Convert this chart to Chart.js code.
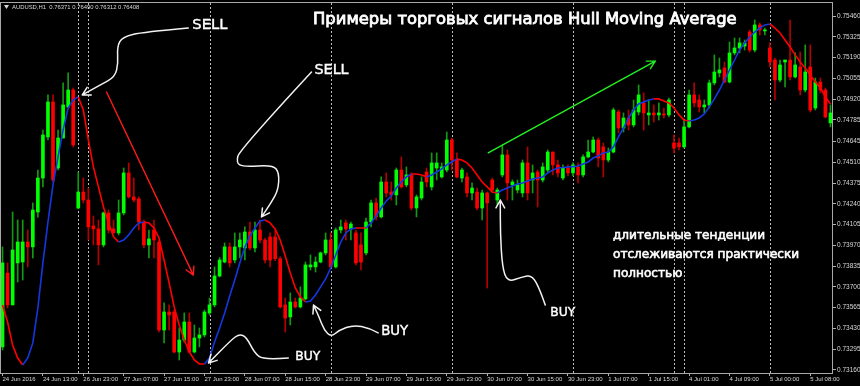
<!DOCTYPE html>
<html>
<head>
<meta charset="utf-8">
<script src="https://cdn.jsdelivr.net/npm/chart.js@4.4.1/dist/chart.umd.min.js"></script>
<style>
  html, body { margin: 0; padding: 0; background: #000; }
  canvas { display: block; }
</style>
</head>
<body>
<canvas id="chart" width="860" height="386"></canvas>
<script>
// AUDUSD H1, 24 Jun - 5 Jul 2016, Hull Moving Average signals
const sessions = [
  ['24 Jun', 5, 19], ['26 Jun', 22, 23], ['27 Jun', 0, 23], ['28 Jun', 0, 23],
  ['29 Jun', 0, 23], ['30 Jun', 0, 23], ['1 Jul', 0, 19], ['3 Jul', 22, 23],
  ['4 Jul', 0, 16], ['5 Jul', 0, 12]
];
const barTimes = [];
sessions.forEach(([day, from, to]) => {
  for (let h = from; h <= to; h++) barTimes.push(day + ' ' + String(h).padStart(2, '0') + ':00');
});

const openPrices = [
  0.73310, 0.73790, 0.73583, 0.73856, 0.73862, 0.73992, 0.73960, 0.74187, 0.74408, 0.74675,
  0.74902, 0.74473, 0.74668, 0.74870, 0.74980, 0.74213, 0.74317, 0.74265, 0.74096, 0.74077,
  0.73973, 0.74181, 0.74077, 0.74051, 0.74181, 0.74441, 0.74285, 0.74272, 0.74122, 0.73973,
  0.74070, 0.73992, 0.73420, 0.73537, 0.73537, 0.73277, 0.73355, 0.73472, 0.73277, 0.73368,
  0.73388, 0.73531, 0.73583, 0.73771, 0.73862, 0.73960, 0.73875, 0.73960, 0.73953, 0.74057,
  0.73953, 0.74070, 0.74005, 0.74025, 0.74025, 0.73883, 0.73583, 0.73505, 0.73602, 0.73570,
  0.73622, 0.73830, 0.73830, 0.73862, 0.73921, 0.74005, 0.73830, 0.74070, 0.74116, 0.74077,
  0.74051, 0.73973, 0.73921, 0.74122, 0.74246, 0.74155, 0.74382, 0.74317, 0.74298, 0.74460,
  0.74363, 0.74428, 0.74213, 0.74278, 0.74447, 0.74350, 0.74473, 0.74415, 0.74460, 0.74655,
  0.74525, 0.74408, 0.74415, 0.74311, 0.74317, 0.74213, 0.74311, 0.74395, 0.74265, 0.74428,
  0.74558, 0.74363, 0.74330, 0.74311, 0.74506, 0.74395, 0.74447, 0.74395, 0.74460, 0.74577,
  0.74493, 0.74408, 0.74473, 0.74441, 0.74480, 0.74428, 0.74545, 0.74577, 0.74655, 0.74610,
  0.74525, 0.74577, 0.74837, 0.74733, 0.74798, 0.74753, 0.74837, 0.74896, 0.74818, 0.74831,
  0.74818, 0.74824, 0.74818, 0.74636, 0.74636, 0.74610, 0.74740, 0.74948, 0.74915, 0.74870,
  0.74883, 0.75026, 0.75091, 0.75123, 0.75032, 0.75221, 0.75253, 0.75266, 0.75357, 0.75240,
  0.75403, 0.75364, 0.75253, 0.75175, 0.75045, 0.75162, 0.75175, 0.75065, 0.75130, 0.74980,
  0.75130, 0.74863, 0.75032, 0.74980, 0.74766
];
const highPrices = [
  0.73960, 0.73856, 0.74187, 0.74135, 0.74135, 0.74070, 0.74246, 0.74460, 0.74720, 0.74948,
  0.74948, 0.74720, 0.75026, 0.75091, 0.74993, 0.74447, 0.74408, 0.74343, 0.74161, 0.74135,
  0.74187, 0.74200, 0.74135, 0.74265, 0.74473, 0.74506, 0.74408, 0.74285, 0.74135, 0.74070,
  0.74135, 0.74005, 0.73596, 0.73583, 0.73550, 0.73433, 0.73531, 0.73531, 0.73453, 0.73433,
  0.73550, 0.73628, 0.73830, 0.73891, 0.73986, 0.73986, 0.74051, 0.74051, 0.74090, 0.74122,
  0.74122, 0.74135, 0.74018, 0.74051, 0.74070, 0.73896, 0.73628, 0.73661, 0.73628, 0.73700,
  0.73862, 0.73908, 0.73895, 0.73927, 0.74051, 0.74051, 0.74083, 0.74135, 0.74135, 0.74122,
  0.74070, 0.74051, 0.74148, 0.74265, 0.74278, 0.74415, 0.74441, 0.74382, 0.74473, 0.74545,
  0.74480, 0.74441, 0.74298, 0.74415, 0.74473, 0.74571, 0.74571, 0.74506, 0.74707, 0.74668,
  0.74571, 0.74473, 0.74441, 0.74376, 0.74343, 0.74330, 0.74317, 0.74408, 0.74343, 0.74623,
  0.74590, 0.74395, 0.74395, 0.74525, 0.74610, 0.74493, 0.74460, 0.74506, 0.74590, 0.74577,
  0.74525, 0.74493, 0.74493, 0.74506, 0.74506, 0.74558, 0.74655, 0.74675, 0.74668, 0.74636,
  0.74603, 0.74863, 0.74850, 0.74831, 0.74850, 0.74915, 0.75013, 0.74961, 0.74915, 0.74883,
  0.74896, 0.74863, 0.74928, 0.74688, 0.74668, 0.74785, 0.74980, 0.75026, 0.74948, 0.74915,
  0.75045, 0.75208, 0.75188, 0.75162, 0.75292, 0.75318, 0.75318, 0.75305, 0.75370, 0.75435,
  0.75416, 0.75383, 0.75286, 0.75188, 0.75175, 0.75175, 0.75435, 0.75221, 0.75227, 0.75273,
  0.75273, 0.75058, 0.75058, 0.74993, 0.74883
];
const lowPrices = [
  0.73290, 0.73563, 0.73583, 0.73732, 0.73745, 0.73830, 0.73888, 0.74154, 0.74350, 0.74655,
  0.74382, 0.74460, 0.74668, 0.74863, 0.74610, 0.74207, 0.74246, 0.74005, 0.73973, 0.73843,
  0.73960, 0.74051, 0.74051, 0.74038, 0.74168, 0.74278, 0.74252, 0.74070, 0.73953, 0.73888,
  0.73888, 0.73407, 0.73336, 0.73420, 0.73271, 0.73225, 0.73342, 0.73271, 0.73271, 0.73310,
  0.73375, 0.73518, 0.73570, 0.73765, 0.73856, 0.73830, 0.73856, 0.73891, 0.73875, 0.73940,
  0.73927, 0.73986, 0.73856, 0.73830, 0.73871, 0.73563, 0.73407, 0.73453, 0.73563, 0.73563,
  0.73615, 0.73810, 0.73797, 0.73856, 0.73908, 0.73823, 0.73823, 0.74051, 0.74005, 0.74005,
  0.73843, 0.73810, 0.73908, 0.74090, 0.74135, 0.74148, 0.74285, 0.74265, 0.74233, 0.74343,
  0.74350, 0.74200, 0.74155, 0.74265, 0.74350, 0.74330, 0.74395, 0.74408, 0.74447, 0.74460,
  0.74408, 0.74382, 0.74285, 0.74265, 0.74200, 0.74135, 0.73693, 0.74317, 0.74233, 0.74415,
  0.74265, 0.74265, 0.74311, 0.74285, 0.74265, 0.74311, 0.74220, 0.74382, 0.74447, 0.74428,
  0.74415, 0.74395, 0.74421, 0.74421, 0.74376, 0.74415, 0.74538, 0.74571, 0.74480, 0.74415,
  0.74512, 0.74571, 0.74701, 0.74707, 0.74720, 0.74740, 0.74818, 0.74720, 0.74753, 0.74772,
  0.74785, 0.74798, 0.74805, 0.74571, 0.74590, 0.74603, 0.74733, 0.74870, 0.74837, 0.74831,
  0.74863, 0.75013, 0.75065, 0.75026, 0.75026, 0.75208, 0.75221, 0.75240, 0.75227, 0.75227,
  0.75338, 0.75338, 0.75130, 0.74915, 0.75032, 0.75000, 0.75045, 0.75058, 0.74948, 0.74967,
  0.74837, 0.74850, 0.74961, 0.74798, 0.74740
];
const closePrices = [
  0.73856, 0.73583, 0.73940, 0.73992, 0.73992, 0.73960, 0.74200, 0.74408, 0.74688, 0.74902,
  0.74395, 0.74668, 0.74883, 0.74980, 0.74623, 0.74317, 0.74265, 0.74090, 0.74077, 0.73973,
  0.74181, 0.74070, 0.74051, 0.74181, 0.74441, 0.74285, 0.74265, 0.74122, 0.73973, 0.74012,
  0.74005, 0.73420, 0.73537, 0.73518, 0.73277, 0.73355, 0.73472, 0.73277, 0.73368, 0.73388,
  0.73537, 0.73583, 0.73771, 0.73875, 0.73960, 0.73856, 0.73960, 0.74005, 0.74057, 0.73953,
  0.74070, 0.74005, 0.73875, 0.73875, 0.73883, 0.73570, 0.73498, 0.73602, 0.73570, 0.73628,
  0.73843, 0.73843, 0.73862, 0.73921, 0.74005, 0.73830, 0.74070, 0.74090, 0.74077, 0.74109,
  0.73856, 0.73862, 0.74122, 0.74246, 0.74155, 0.74382, 0.74311, 0.74298, 0.74460, 0.74350,
  0.74428, 0.74213, 0.74285, 0.74382, 0.74382, 0.74506, 0.74506, 0.74480, 0.74655, 0.74525,
  0.74415, 0.74460, 0.74311, 0.74343, 0.74213, 0.74311, 0.74246, 0.74330, 0.74330, 0.74558,
  0.74376, 0.74382, 0.74363, 0.74506, 0.74311, 0.74441, 0.74395, 0.74480, 0.74577, 0.74493,
  0.74441, 0.74473, 0.74441, 0.74493, 0.74428, 0.74545, 0.74577, 0.74655, 0.74538, 0.74525,
  0.74577, 0.74850, 0.74733, 0.74798, 0.74753, 0.74850, 0.74948, 0.74831, 0.74831, 0.74818,
  0.74831, 0.74818, 0.74915, 0.74603, 0.74610, 0.74740, 0.74948, 0.74896, 0.74870, 0.74883,
  0.75026, 0.75097, 0.75110, 0.75032, 0.75221, 0.75253, 0.75286, 0.75286, 0.75240, 0.75403,
  0.75370, 0.75370, 0.75162, 0.75045, 0.75143, 0.75175, 0.75065, 0.75143, 0.74980, 0.75097,
  0.74850, 0.75032, 0.74980, 0.74805, 0.74831
];
const hullMA = [
  0.73583, 0.73472, 0.73323, 0.73238, 0.73192, 0.73238, 0.73336, 0.73563, 0.73856, 0.74122,
  0.74363, 0.74545, 0.74720, 0.74863, 0.74915, 0.74935, 0.74850, 0.74655, 0.74480, 0.74350,
  0.74220, 0.74116, 0.74025, 0.73992, 0.74005, 0.74038, 0.74083, 0.74116, 0.74122, 0.74116,
  0.74083, 0.74018, 0.73875, 0.73726, 0.73570, 0.73453, 0.73355, 0.73277, 0.73225, 0.73199,
  0.73199, 0.73238, 0.73342, 0.73433, 0.73531, 0.73641, 0.73745, 0.73856, 0.73960, 0.74031,
  0.74083, 0.74129, 0.74135, 0.74116, 0.74077, 0.74005, 0.73901, 0.73791, 0.73693, 0.73635,
  0.73602, 0.73609, 0.73648, 0.73700, 0.73752, 0.73823, 0.73908, 0.73992, 0.74051, 0.74077,
  0.74083, 0.74083, 0.74083, 0.74116, 0.74161, 0.74213, 0.74259, 0.74291, 0.74343, 0.74382,
  0.74415, 0.74434, 0.74434, 0.74428, 0.74415, 0.74428, 0.74447, 0.74467, 0.74493, 0.74512,
  0.74532, 0.74525, 0.74506, 0.74473, 0.74428, 0.74382, 0.74350, 0.74317, 0.74311, 0.74330,
  0.74343, 0.74356, 0.74369, 0.74376, 0.74389, 0.74402, 0.74408, 0.74415, 0.74441, 0.74460,
  0.74473, 0.74476, 0.74480, 0.74482, 0.74486, 0.74499, 0.74512, 0.74538, 0.74551, 0.74571,
  0.74577, 0.74610, 0.74675, 0.74733, 0.74798, 0.74850, 0.74889, 0.74902, 0.74915, 0.74922,
  0.74922, 0.74909, 0.74896, 0.74863, 0.74818, 0.74785, 0.74779, 0.74785, 0.74798, 0.74824,
  0.74870, 0.74922, 0.74980, 0.75045, 0.75110, 0.75175, 0.75240, 0.75286, 0.75325, 0.75357,
  0.75383, 0.75403, 0.75409, 0.75383, 0.75351, 0.75305, 0.75260, 0.75208, 0.75162, 0.75123,
  0.75078, 0.75032, 0.74993, 0.74935, 0.74889
];

const yTicks = [
  0.73160, 0.73295, 0.73430, 0.73565, 0.73700, 0.73835, 0.73970, 0.74105, 0.74240,
  0.74375, 0.74510, 0.74645, 0.74785, 0.74920, 0.75055, 0.75190, 0.75325, 0.75460
];
const xTickBars = [
  '24 Jun 05:00', '24 Jun 13:00', '26 Jun 23:00', '27 Jun 07:00', '27 Jun 15:00', '27 Jun 23:00',
  '28 Jun 07:00', '28 Jun 15:00', '28 Jun 23:00', '29 Jun 07:00', '29 Jun 15:00', '29 Jun 23:00',
  '30 Jun 07:00', '30 Jun 15:00', '30 Jun 23:00', '1 Jul 07:00', '1 Jul 15:00', '4 Jul 01:00',
  '4 Jul 09:00', '5 Jul 00:00', '5 Jul 08:00'
];
const xTickLabels = [
  '24 Jun 2016', '24 Jun 13:00', '26 Jun 23:00', '27 Jun 07:00', '27 Jun 15:00', '27 Jun 23:00',
  '28 Jun 07:00', '28 Jun 15:00', '28 Jun 23:00', '29 Jun 07:00', '29 Jun 15:00', '29 Jun 23:00',
  '30 Jun 07:00', '30 Jun 15:00', '30 Jun 23:00', '1 Jul 07:00', '1 Jul 15:00', '4 Jul 01:00',
  '4 Jul 09:00', '5 Jul 00:00', '5 Jul 08:00'
];

// annotations, in [bar index, price]
const sellArrows = [
  [[36.8, 0.75383], [27.9, 0.75357], [23.7, 0.75325], [22.7, 0.75260], [22.9, 0.75156], [22.3, 0.75065], [19.4, 0.75013], [15.8, 0.74948]],
  [[61.2, 0.75097], [46.9, 0.74590], [46.3, 0.74506], [47.7, 0.74480], [53.6, 0.74493], [54.8, 0.74441], [54.6, 0.74330], [53.2, 0.74246], [51.3, 0.74155]]
];
const buyArrows = [
  [[56.6, 0.73238], [51.7, 0.73225], [49.9, 0.73271], [48.3, 0.73375], [46.9, 0.73394], [45.3, 0.73355], [40.8, 0.73206]],
  [[74.4, 0.73401], [72.7, 0.73433], [69.5, 0.73453], [66.7, 0.73420], [65.1, 0.73375], [63.7, 0.73420], [62.7, 0.73505], [61.6, 0.73582]],
  [[107.5, 0.73582], [106.5, 0.73680], [104.9, 0.73777], [102.9, 0.73764], [100.0, 0.73732], [99.0, 0.73830], [98.6, 0.74051], [98.6, 0.74265]]
];
const signalLabels = [
  ['SELL', 37.6, 0.75402, 35], ['SELL', 61.8, 0.75110, 34],
  ['BUY', 58.0, 0.73244, 25], ['BUY', 75.0, 0.73407, 27], ['BUY', 108.5, 0.73530, 25]
];
const downTrend = [[20.6, 0.74967], [37.8, 0.73777]];
const upTrend = [[96.2, 0.74571], [129.3, 0.75168]];

const titleText = 'Примеры торговых сигналов Hull Moving Average';
const noteLines = ['длительные тенденции', 'отслеживаются практически', 'полностью'];
const headerText = 'AUDUSD,H1  0.76371 0.76490 0.76312 0.76408';

const bull = closePrices.map((c, i) => c >= openPrices[i]);
const bodyData = openPrices.map((o, i) => [o, closePrices[i]]);
const wickData = lowPrices.map((l, i) => [l, highPrices[i]]);

const axisFont = { family: 'Liberation Sans', size: 6.5 };
const noteFamily = '"DejaVu Sans"';

function fitFont(ctx, text, width, family) {
  ctx.font = '100px ' + family;
  const size = 100 * width / ctx.measureText(text).width;
  return size.toFixed(1) + 'px ' + family;
}

// thicker strokes for the hand-written look of the captions
function heavyText(ctx, text, x, y) {
  ctx.fillText(text, x, y);
  ctx.strokeText(text, x, y);
}

function drawArrow(ctx, pts, color, width, head) {
  ctx.save();
  ctx.strokeStyle = color;
  ctx.lineWidth = width;
  ctx.lineCap = 'round';
  ctx.lineJoin = 'round';
  ctx.beginPath();
  ctx.moveTo(pts[0][0], pts[0][1]);
  for (let i = 1; i < pts.length - 1; i++) {
    const mx = (pts[i][0] + pts[i + 1][0]) / 2, my = (pts[i][1] + pts[i + 1][1]) / 2;
    ctx.quadraticCurveTo(pts[i][0], pts[i][1], mx, my);
  }
  const a = pts[pts.length - 2], b = pts[pts.length - 1];
  ctx.lineTo(b[0], b[1]);
  const ang = Math.atan2(b[1] - a[1], b[0] - a[0]);
  [-1, 1].forEach(s => {
    ctx.moveTo(b[0], b[1]);
    ctx.lineTo(b[0] - head * Math.cos(ang + s * 0.5), b[1] - head * Math.sin(ang + s * 0.5));
  });
  ctx.stroke();
  ctx.restore();
}

const chartDecor = {
  id: 'chartDecor',
  beforeDraw(chart) {
    const ctx = chart.ctx;
    ctx.save();
    ctx.fillStyle = '#000';
    ctx.fillRect(0, 0, chart.width, chart.height);
    ctx.restore();
  },
  beforeDatasetsDraw(chart) {
    // day separators
    const { ctx, chartArea: a, scales: { x } } = chart;
    ctx.save();
    ctx.strokeStyle = '#bdbdbd';
    ctx.lineWidth = 1;
    ctx.setLineDash([2, 2]);
    for (let i = 1; i < barTimes.length; i++) {
      const d0 = barTimes[i - 1].split(' ').slice(0, 2).join(' ');
      const d1 = barTimes[i].split(' ').slice(0, 2).join(' ');
      if (d0 === d1) continue;
      const px = Math.round(x.getPixelForValue(i)) + 0.5;
      ctx.beginPath();
      ctx.moveTo(px, a.top);
      ctx.lineTo(px, a.bottom);
      ctx.stroke();
    }
    ctx.restore();
  },
  afterDatasetsDraw(chart) {
    const { ctx, chartArea: a, scales: { x, y } } = chart;
    const toPx = pts => pts.map(([b, p]) => [x.getPixelForValue(b), y.getPixelForValue(p)]);

    // frame
    ctx.save();
    ctx.strokeStyle = '#a8a8a8';
    ctx.lineWidth = 1;
    ctx.strokeRect(a.left + 0.5, a.top - 0.5, a.right - a.left - 1, a.bottom - a.top + 1);
    ctx.restore();

    drawArrow(ctx, toPx(downTrend), '#ff1a1a', 1.4, 9);
    drawArrow(ctx, toPx(upTrend), '#22ee22', 1.4, 9);
    sellArrows.concat(buyArrows).forEach(p => drawArrow(ctx, toPx(p), '#f2f2f2', 1.5, 9));

    ctx.save();
    ctx.fillStyle = '#ffffff';
    ctx.strokeStyle = '#ffffff';
    ctx.textBaseline = 'middle';
    ctx.lineWidth = 0.4;
    signalLabels.forEach(([t, b, p, w]) => {
      ctx.font = fitFont(ctx, t, w, noteFamily);
      heavyText(ctx, t, x.getPixelForValue(b), y.getPixelForValue(p));
    });

    ctx.lineWidth = 0.8;
    ctx.font = fitFont(ctx, titleText, 424, noteFamily);
    heavyText(ctx, titleText, 313, 20);

    ctx.lineWidth = 0.6;
    ctx.font = fitFont(ctx, noteLines[1], 187, noteFamily);
    noteLines.forEach((t, i) => heavyText(ctx, t, 613, 236 + i * 19));

    // symbol header
    ctx.fillStyle = '#d8d8d8';
    ctx.beginPath();
    ctx.moveTo(4, 5); ctx.lineTo(9, 5); ctx.lineTo(6.5, 9); ctx.closePath();
    ctx.fill();
    ctx.font = fitFont(ctx, headerText, 128, 'Liberation Sans');
    ctx.fillText(headerText, 12, 7);
    ctx.restore();
  }
};

new Chart(document.getElementById('chart'), {
  type: 'bar',
  data: {
    labels: barTimes,
    datasets: [
      {
        type: 'line',
        data: hullMA,
        order: 0,
        borderWidth: 1.6,
        pointRadius: 0,
        tension: 0,
        borderColor: '#ff0000',
        segment: {
          borderColor: ctx => ctx.p1.parsed.y > ctx.p0.parsed.y ? '#1438e0' : '#ff0000'
        }
      },
      {
        data: bodyData,
        order: 1,
        grouped: false,
        barThickness: 3,
        minBarLength: 1,
        borderWidth: 0,
        backgroundColor: bull.map(b => b ? '#00ff00' : '#ff0000')
      },
      {
        data: wickData,
        order: 2,
        grouped: false,
        barThickness: 1,
        borderWidth: 0,
        backgroundColor: bull.map(b => b ? '#139a13' : '#b40000')
      }
    ]
  },
  options: {
    responsive: false,
    maintainAspectRatio: false,
    animation: false,
    events: [],
    layout: { padding: { top: 3, left: 0, right: 0, bottom: 0 } },
    plugins: { legend: { display: false }, tooltip: { enabled: false } },
    scales: {
      x: {
        type: 'category',
        offset: true,
        border: { display: false },
        grid: {
          offset: false,
          drawOnChartArea: false,
          tickLength: 3,
          color: c => (c.tick && c.tick.label) ? '#b0b0b0' : 'rgba(0,0,0,0)'
        },
        ticks: {
          autoSkip: false,
          maxRotation: 0,
          align: 'start',
          padding: 0,
          color: '#d8d8d8',
          font: { family: axisFont.family, size: 6 },
          callback: v => {
            const k = xTickBars.indexOf(barTimes[v]);
            return k < 0 ? null : xTickLabels[k];
          }
        },
        afterFit: s => { s.height = 13; s.paddingLeft = 0; s.paddingRight = 0; }
      },
      y: {
        position: 'right',
        min: 0.731405,
        max: 0.755455,
        border: { display: false },
        grid: { drawOnChartArea: false, tickLength: 3, color: '#b0b0b0' },
        ticks: {
          padding: 1,
          color: '#d8d8d8',
          font: axisFont,
          callback: v => v.toFixed(5)
        },
        afterBuildTicks: s => { s.ticks = yTicks.map(v => ({ value: v })); },
        afterFit: s => { s.width = 27; s.paddingTop = 0; s.paddingBottom = 0; }
      }
    }
  },
  plugins: [chartDecor]
});
</script>
</body>
</html>
